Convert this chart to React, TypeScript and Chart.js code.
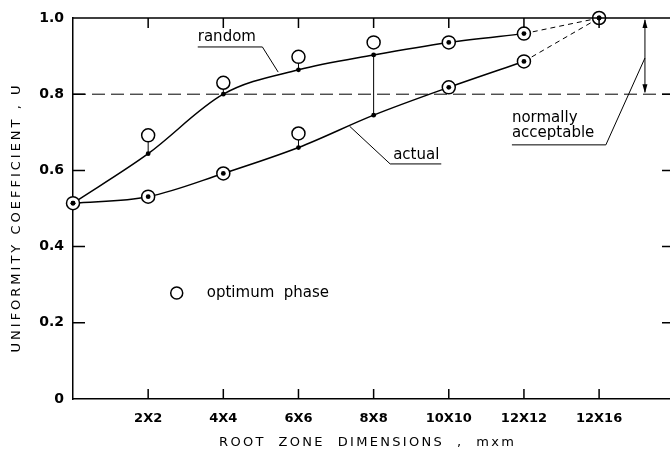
import React, { useEffect, useRef } from "react";
import { Chart, registerables } from "chart.js";

Chart.register(...registerables);

// ---- data ----
const xPositions = [1, 2, 3, 4, 5, 6, 7, 8];
const xTickValues = [2, 3, 4, 5, 6, 7, 8];
const xTickLabels = ["2X2", "4X4", "6X6", "8X8", "10X10", "12X12", "12X16"];
const yTickValues = [0, 0.2, 0.4, 0.6, 0.8, 1.0];
const yTickLabels = ["0", "0.2", "0.4", "0.6", "0.8", "1.0"];
const xTitle = "ROOT  ZONE  DIMENSIONS  ,  mxm";
const yTitle = "UNIFORMITY COEFFICIENT , U";

const randomU = [0.514, 0.644, 0.8, 0.864, 0.903, 0.936, 0.959, 1.0];
const actualU = [0.514, 0.531, 0.592, 0.66, 0.745, 0.818, 0.886, 1.0];

const optimumX = [1, 2, 2, 3, 3, 4, 4, 5, 6, 6, 7, 7, 8];
const optimumU = [0.514, 0.692, 0.531, 0.83, 0.592, 0.898, 0.697, 0.936, 0.936, 0.818, 0.959, 0.886, 1.0];

// vertical connectors: x, from, to
const connectorX = [2, 3, 4, 4, 5];
const connectorFrom = [0.644, 0.8, 0.864, 0.66, 0.745];
const connectorTo = [0.692, 0.83, 0.898, 0.697, 0.903];

const acceptableU = 0.8;

const X_MIN = 1;
const X_MAX = 8.97;
const FONT = "'DejaVu Sans', sans-serif";
const CANVAS_W = 680;
const CANVAS_H = 453;

const annotations = {
  id: "annotations",
  afterDatasetsDraw(chart: any) {
    const { ctx, chartArea: a, scales } = chart;
    const xs = scales.x;
    const ys = scales.y;
    const px = (v: number) => xs.getPixelForValue(v);
    const py = (v: number) => ys.getPixelForValue(v);
    ctx.save();
    ctx.strokeStyle = "#000";
    ctx.fillStyle = "#000";
    // frame top & right
    ctx.lineWidth = 1.5;
    ctx.beginPath();
    ctx.moveTo(a.left, a.top);
    ctx.lineTo(a.right, a.top);
    ctx.lineTo(a.right, a.bottom);
    ctx.stroke();
    // inward ticks
    ctx.beginPath();
    xTickValues.forEach((v) => {
      const x = px(v);
      ctx.moveTo(x, a.bottom);
      ctx.lineTo(x, a.bottom - 10);
      ctx.moveTo(x, a.top);
      ctx.lineTo(x, a.top + 10);
    });
    yTickValues.slice(1, -1).forEach((v) => {
      const y = py(v);
      ctx.moveTo(a.left, y);
      ctx.lineTo(a.left + 12, y);
      ctx.moveTo(a.right, y);
      ctx.lineTo(a.right - 10, y);
    });
    ctx.stroke();

    // annotations
    ctx.lineWidth = 1;
    ctx.font = `15px ${FONT}`;
    ctx.textBaseline = "middle";
    ctx.textAlign = "left";
    // random
    ctx.fillText("random", px(2.66), py(0.95));
    ctx.beginPath();
    ctx.moveTo(px(2.66), py(0.924));
    ctx.lineTo(px(3.52), py(0.924));
    ctx.lineTo(px(3.73), py(0.858));
    ctx.stroke();
    // actual
    ctx.fillText("actual", px(5.26), py(0.64));
    ctx.beginPath();
    ctx.moveTo(px(5.9), py(0.617));
    ctx.lineTo(px(5.22), py(0.617));
    ctx.lineTo(px(4.68), py(0.716));
    ctx.stroke();
    // normally acceptable
    ctx.fillText("normally", px(6.84), py(0.738));
    ctx.fillText("acceptable", px(6.84), py(0.698));
    ctx.beginPath();
    ctx.moveTo(px(6.84), py(0.667));
    ctx.lineTo(px(8.09), py(0.667));
    ctx.lineTo(px(8.61), py(0.895));
    ctx.stroke();
    // double arrow
    const ax = px(8.61);
    const y1 = py(1.0);
    const y2 = py(acceptableU);
    ctx.beginPath();
    ctx.moveTo(ax, y1 + 2);
    ctx.lineTo(ax, y2 - 2);
    ctx.stroke();
    ctx.beginPath();
    ctx.moveTo(ax, y1 + 1);
    ctx.lineTo(ax - 2.5, y1 + 10);
    ctx.lineTo(ax + 2.5, y1 + 10);
    ctx.closePath();
    ctx.fill();
    ctx.beginPath();
    ctx.moveTo(ax, y2 - 1);
    ctx.lineTo(ax - 2.5, y2 - 10);
    ctx.lineTo(ax + 2.5, y2 - 10);
    ctx.closePath();
    ctx.fill();
    // legend
    ctx.lineWidth = 1.5;
    ctx.beginPath();
    ctx.arc(px(2.38), py(0.278), 6, 0, Math.PI * 2);
    ctx.stroke();
    ctx.fillText("optimum  phase", px(2.78), py(0.278));

    // axis titles (letter-spaced)
    ctx.font = `13px ${FONT}`;
    ctx.textAlign = "center";
    (ctx as any).letterSpacing = "2.3px";
    ctx.fillText(xTitle, px(4.92), a.bottom + 44);
    (ctx as any).letterSpacing = "3px";
    ctx.translate(17, (a.top + a.bottom) / 2 + 9);
    ctx.rotate(-Math.PI / 2);
    ctx.fillText(yTitle, 0, 0);
    (ctx as any).letterSpacing = "0px";
    ctx.restore();
  },
};

export default function App() {
  const ref = useRef<HTMLCanvasElement | null>(null);
  useEffect(() => {
    if (!ref.current) return;
    const curve = (vals: number[]) => xPositions.slice(0, 7).map((x, i) => ({ x, y: vals[i] }));
    const tail = (vals: number[]) => [6, 7].map((i) => ({ x: xPositions[i], y: vals[i] }));
    const connectors = connectorX.map((x, i) => ({
      type: "line" as const,
      data: [
        { x, y: connectorFrom[i] },
        { x, y: connectorTo[i] },
      ],
      borderColor: "#000",
      borderWidth: 1,
      pointRadius: 0,
      order: 5,
    }));
    const chart = new Chart(ref.current, {
      type: "scatter",
      data: {
        datasets: [
          {
            type: "line",
            label: "dots",
            data: [
              ...xPositions.map((x, i) => ({ x, y: randomU[i] })),
              ...xPositions.map((x, i) => ({ x, y: actualU[i] })),
            ],
            showLine: false,
            pointRadius: 2.4,
            pointBackgroundColor: "#000",
            pointBorderWidth: 0,
            clip: false,
            order: 0,
          },
          {
            label: "optimum phase",
            data: optimumX.map((x, i) => ({ x, y: optimumU[i] })),
            pointRadius: 6.5,
            pointBackgroundColor: "#fff",
            pointBorderColor: "#000",
            pointBorderWidth: 1.5,
            clip: false,
            order: 1,
          },
          {
            type: "line",
            label: "random",
            data: curve(randomU),
            borderColor: "#000",
            borderWidth: 1.5,
            cubicInterpolationMode: "monotone",
            pointRadius: 0,
            order: 2,
          },
          {
            type: "line",
            label: "actual",
            data: curve(actualU),
            borderColor: "#000",
            borderWidth: 1.5,
            cubicInterpolationMode: "monotone",
            pointRadius: 0,
            order: 2,
          },
          {
            type: "line",
            label: "random tail",
            data: tail(randomU),
            borderColor: "#000",
            borderWidth: 1,
            borderDash: [5, 4],
            pointRadius: 0,
            order: 3,
          },
          {
            type: "line",
            label: "actual tail",
            data: tail(actualU),
            borderColor: "#000",
            borderWidth: 1,
            borderDash: [5, 4],
            pointRadius: 0,
            order: 3,
          },
          {
            type: "line",
            label: "acceptable",
            data: [
              { x: X_MIN, y: acceptableU },
              { x: X_MAX, y: acceptableU },
            ],
            borderColor: "#000",
            borderWidth: 1,
            borderDash: [13, 6],
            pointRadius: 0,
            order: 6,
          },
          ...connectors,
        ] as any,
      },
      options: {
        animation: false,
        responsive: false,
        devicePixelRatio: 1,
        layout: { padding: { top: 18, right: 2, left: 0, bottom: 0 } },
        plugins: { legend: { display: false }, tooltip: { enabled: false } },
        scales: {
          x: {
            type: "linear",
            min: X_MIN,
            max: X_MAX,
            grid: { display: false, drawTicks: false },
            border: { display: true, color: "#000", width: 1.5 },
            afterBuildTicks: (s: any) => {
              s.ticks = xTickValues.map((v) => ({ value: v }));
            },
            afterFit: (s: any) => {
              s.height = 54;
              s.paddingLeft = 0;
              s.paddingRight = 0;
            },
            ticks: {
              color: "#000",
              padding: 12,
              maxRotation: 0,
              autoSkip: false,
              font: { family: FONT, size: 13, weight: "bold" },
              callback: (v: any) => {
                const i = xTickValues.indexOf(Number(v));
                return i >= 0 ? xTickLabels[i] : "";
              },
            },
            title: { display: false },
          },
          y: {
            type: "linear",
            min: 0,
            max: 1,
            grid: { display: false, drawTicks: false },
            border: { display: true, color: "#000", width: 1.5 },
            afterBuildTicks: (s: any) => {
              s.ticks = yTickValues.map((v) => ({ value: v }));
            },
            afterFit: (s: any) => {
              s.width = 73;
            },
            ticks: {
              color: "#000",
              padding: 9,
              font: { family: FONT, size: 14, weight: "bold" },
              callback: (v: any) => {
                const i = yTickValues.findIndex((t) => Math.abs(t - Number(v)) < 1e-6);
                return i >= 0 ? yTickLabels[i] : "";
              },
            },
            title: { display: false },
          },
        },
      },
      plugins: [annotations],
    });
    return () => chart.destroy();
  }, []);
  return (
    <div
      style={{
        position: "fixed",
        left: 0,
        top: 0,
        width: 670,
        height: CANVAS_H,
        overflow: "hidden",
        background: "#fff",
      }}
    >
      <div style={{ width: CANVAS_W, height: CANVAS_H }}>
        <canvas
          ref={ref}
          width={CANVAS_W}
          height={CANVAS_H}
          style={{ display: "block", width: CANVAS_W, height: CANVAS_H }}
        />
      </div>
    </div>
  );
}
